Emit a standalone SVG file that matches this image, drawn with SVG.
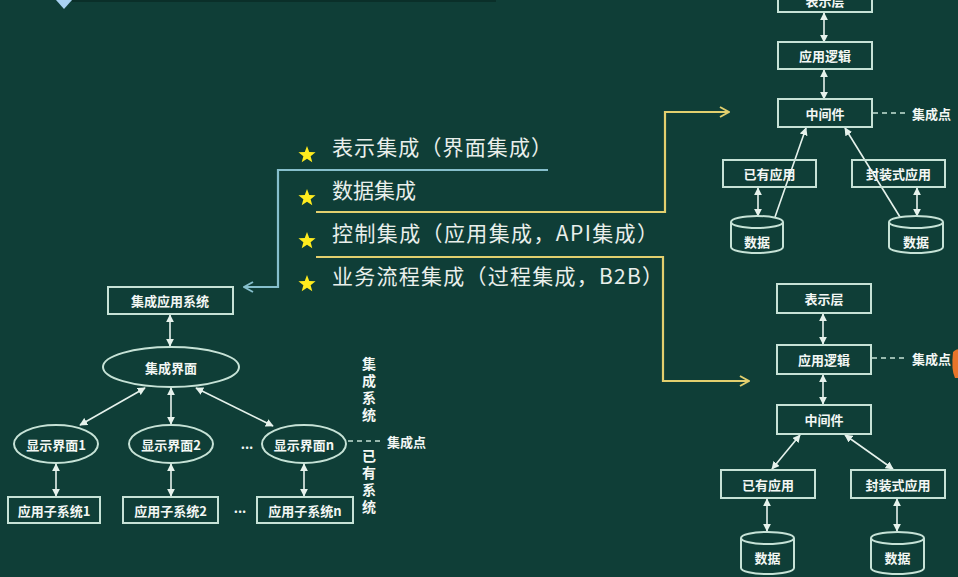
<svg xmlns="http://www.w3.org/2000/svg" width="958" height="577" viewBox="0 0 958 577">
<defs>
  <marker id="ah" viewBox="0 0 10 10" refX="9" refY="5" markerWidth="8" markerHeight="8" markerUnits="userSpaceOnUse" orient="auto-start-reverse">
    <path d="M0,0 L10,5 L0,10 Z" fill="#e6f2ec"/>
  </marker>
  <marker id="ay" viewBox="0 0 12 12" refX="11" refY="6" markerWidth="12" markerHeight="12" markerUnits="userSpaceOnUse" orient="auto">
    <path d="M2,1 L11,6 L2,11" fill="none" stroke="#e2cf6e" stroke-width="2"/>
  </marker>
  <marker id="ab" viewBox="0 0 12 12" refX="11" refY="6" markerWidth="12" markerHeight="12" markerUnits="userSpaceOnUse" orient="auto">
    <path d="M2,1 L11,6 L2,11" fill="none" stroke="#86bfcc" stroke-width="2"/>
  </marker>
  <polygon id="star" points="0,-9 2.25,-3.1 8.56,-2.78 3.63,1.18 5.29,7.28 0,3.83 -5.29,7.28 -3.63,1.18 -8.56,-2.78 -2.25,-3.1" fill="#ffec1e"/>
</defs>
<style>
  .box{fill:none;stroke:#c6e2d6;stroke-width:2}
  .lbl{font-family:"Noto Sans CJK SC","Noto Sans",sans-serif;font-size:13px;font-weight:700;fill:#f3f7f4;text-anchor:middle;dominant-baseline:central}
  .side{font-family:"Noto Sans CJK SC","Noto Sans",sans-serif;font-size:13px;font-weight:700;fill:#f3f7f4;dominant-baseline:central}
  .vt{font-family:"Noto Sans CJK SC","Noto Sans",sans-serif;font-size:14px;font-weight:700;fill:#f3f7f4;writing-mode:vertical-rl;letter-spacing:3px}
  .main{font-family:"Noto Sans CJK SC","Noto Sans",sans-serif;font-size:21px;fill:#e9efeb}
  .arr{stroke:#e6f2ec;stroke-width:1.6;fill:none;marker-start:url(#ah);marker-end:url(#ah)}
  .one{stroke:#e6f2ec;stroke-width:1.6;fill:none;marker-end:url(#ah)}
  .dash{stroke:#c6e2d6;stroke-width:1.3;stroke-dasharray:5 4;fill:none}
  .yl{stroke:#e2cf6e;stroke-width:2.2;fill:none}
  .bl{stroke:#86bfcc;stroke-width:2.2;fill:none}
</style>

<!-- background -->
<rect width="958" height="577" fill="#0f3e37"/>
<rect x="72" y="0" width="424" height="2" fill="#0a2f29"/>
<polygon points="56,0 72,0 64,9" fill="#a9d2f2"/>
<path d="M953,352 Q958,348 958,350 V378 H955 Q951,370 953,352 Z" fill="#e8742a"/>

<!-- integration types list -->
<g id="list">
  <use href="#star" x="307" y="155"/>
  <use href="#star" x="307" y="198"/>
  <use href="#star" x="307" y="241"/>
  <use href="#star" x="307" y="284"/>
  <text class="main" x="332" y="155" textLength="220" lengthAdjust="spacing">表示集成（界面集成）</text>
  <text class="main" x="332" y="198">数据集成</text>
  <text class="main" x="332" y="241" textLength="326" lengthAdjust="spacing">控制集成（应用集成，API集成）</text>
  <text class="main" x="332" y="284" textLength="331" lengthAdjust="spacing">业务流程集成（过程集成，B2B）</text>
</g>

<!-- connectors -->
<g id="connectors">
  <path class="bl" d="M548,170 H278 V287 H244" marker-end="url(#ab)"/>
  <path class="yl" d="M316,212 H665 V112 H729" marker-end="url(#ay)"/>
  <path class="yl" d="M316,257 H663 V381 H749" marker-end="url(#ay)"/>

  <!-- left: interface integration -->
  <line class="arr" x1="170" y1="315" x2="170" y2="346"/>
  <line class="arr" x1="145" y1="388" x2="80" y2="425"/>
  <line class="arr" x1="171" y1="388" x2="171" y2="424"/>
  <line class="arr" x1="196" y1="388" x2="273" y2="426"/>
  <line class="arr" x1="56" y1="464" x2="56" y2="496"/>
  <line class="arr" x1="171" y1="464" x2="171" y2="496"/>
  <line class="arr" x1="304" y1="464" x2="304" y2="496"/>
  <line class="dash" x1="348" y1="441" x2="382" y2="441"/>

  <!-- right top -->
  <line class="arr" x1="824" y1="13" x2="824" y2="42"/>
  <line class="arr" x1="824" y1="70" x2="824" y2="99"/>
  <line class="one" x1="775" y1="217" x2="806" y2="128"/>
  <line class="one" x1="900" y1="217" x2="845" y2="128"/>
  <line class="arr" x1="758" y1="188" x2="758" y2="216"/>
  <line class="arr" x1="917" y1="188" x2="917" y2="216"/>
  <line class="dash" x1="873" y1="113" x2="905" y2="113"/>

  <!-- right bottom -->
  <line class="arr" x1="823" y1="314" x2="823" y2="344"/>
  <line class="arr" x1="823" y1="375" x2="823" y2="404"/>
  <line class="arr" x1="800" y1="435" x2="772" y2="469"/>
  <line class="arr" x1="845" y1="435" x2="893" y2="469"/>
  <line class="arr" x1="767" y1="499" x2="767" y2="531"/>
  <line class="arr" x1="897" y1="499" x2="897" y2="531"/>
  <line class="dash" x1="872" y1="358" x2="905" y2="358"/>
</g>

<!-- left diagram nodes -->
<g id="app-system"><rect class="box" x="108" y="287" width="125" height="27"/><text class="lbl" x="170" y="300.5">集成应用系统</text></g>
<g id="ui-integration"><ellipse class="box" cx="171" cy="367" rx="68" ry="20"/><text class="lbl" x="171" y="367">集成界面</text></g>
<g id="ui-1"><ellipse class="box" cx="56" cy="444" rx="42" ry="19"/><text class="lbl" x="56" y="444">显示界面1</text></g>
<g id="ui-2"><ellipse class="box" cx="171" cy="444" rx="42" ry="19"/><text class="lbl" x="171" y="444">显示界面2</text></g>
<g id="ui-n"><ellipse class="box" cx="304" cy="444" rx="42" ry="19"/><text class="lbl" x="304" y="444">显示界面n</text></g>
<g id="sub-1"><rect class="box" x="8" y="497" width="92" height="26"/><text class="lbl" x="54" y="510">应用子系统1</text></g>
<g id="sub-2"><rect class="box" x="123" y="497" width="95" height="26"/><text class="lbl" x="170.5" y="510">应用子系统2</text></g>
<g id="sub-n"><rect class="box" x="257" y="497" width="96" height="26"/><text class="lbl" x="305" y="510">应用子系统n</text></g>
<g id="left-notes">
  <text class="lbl" x="247" y="443">...</text>
  <text class="lbl" x="240" y="507">...</text>
  <text class="side" x="387" y="441">集成点</text>
  <text class="vt" x="369" y="357">集成系统</text>
  <text class="vt" x="369" y="449">已有系统</text>
</g>

<!-- right top stack -->
<g id="t-present"><rect class="box" x="778" y="-20" width="94" height="32"/><text class="lbl" x="825" y="0">表示层</text></g>
<g id="t-logic"><rect class="box" x="778" y="42" width="94" height="27"/><text class="lbl" x="825" y="55.5">应用逻辑</text></g>
<g id="t-middleware"><rect class="box" x="778" y="99" width="94" height="28"/><text class="lbl" x="825" y="113">中间件</text></g>
<g id="t-point"><text class="side" x="912" y="113">集成点</text></g>
<g id="t-existing"><rect class="box" x="723" y="160" width="93" height="27"/><text class="lbl" x="769.5" y="173.5">已有应用</text></g>
<g id="t-wrapped"><rect class="box" x="852" y="160" width="93" height="27"/><text class="lbl" x="898.5" y="173.5">封装式应用</text></g>
<g id="t-data-1"><path class="box" d="M731,222 A26,6 0 0 1 783,222 V247 A26,6 0 0 1 731,247 Z M731,222 A26,6 0 0 0 783,222"/><text class="lbl" x="757" y="241">数据</text></g>
<g id="t-data-2"><path class="box" d="M889,222 A27,6 0 0 1 943,222 V247 A27,6 0 0 1 889,247 Z M889,222 A27,6 0 0 0 943,222"/><text class="lbl" x="916" y="241">数据</text></g>

<!-- right bottom stack -->
<g id="b-present"><rect class="box" x="777" y="284" width="94" height="29"/><text class="lbl" x="824" y="298.5">表示层</text></g>
<g id="b-logic"><rect class="box" x="777" y="345" width="94" height="29"/><text class="lbl" x="824" y="359.5">应用逻辑</text></g>
<g id="b-point"><text class="side" x="912" y="358">集成点</text></g>
<g id="b-middleware"><rect class="box" x="777" y="405" width="94" height="29"/><text class="lbl" x="824" y="419.5">中间件</text></g>
<g id="b-existing"><rect class="box" x="721" y="470" width="94" height="28"/><text class="lbl" x="768" y="484">已有应用</text></g>
<g id="b-wrapped"><rect class="box" x="851" y="470" width="94" height="28"/><text class="lbl" x="898" y="484">封装式应用</text></g>
<g id="b-data-1"><path class="box" d="M741,538 A26.5,6 0 0 1 794,538 V568 A26.5,6 0 0 1 741,568 Z M741,538 A26.5,6 0 0 0 794,538"/><text class="lbl" x="767.5" y="557">数据</text></g>
<g id="b-data-2"><path class="box" d="M871,538 A26.5,6 0 0 1 924,538 V568 A26.5,6 0 0 1 871,568 Z M871,538 A26.5,6 0 0 0 924,538"/><text class="lbl" x="897.5" y="557">数据</text></g>
</svg>
